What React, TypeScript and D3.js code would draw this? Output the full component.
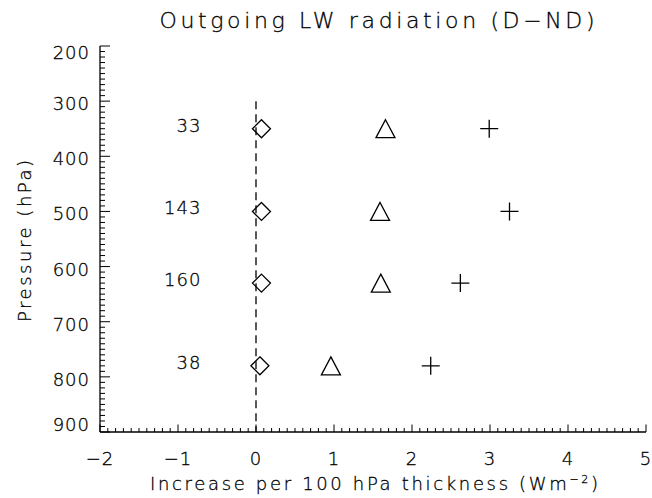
import React from "react";
import * as d3 from "d3";

const pressures = [350, 500, 630, 780];
const counts = ["33", "143", "160", "38"];
const diamondX = [0.07, 0.07, 0.07, 0.05];
const triangleX = [1.66, 1.59, 1.6, 0.96];
const crossX = [2.99, 3.25, 2.62, 2.24];
const xTicks = [-2, -1, 0, 1, 2, 3, 4, 5];
const yTicks = [200, 300, 400, 500, 600, 700, 800, 900];

const W = 652, H = 498;
const L = 100, R = 646, T = 46, B = 432;
const FONT = "'DejaVu Sans', 'Liberation Sans', sans-serif";
const FW = 200;

export default function App() {
  const x = d3.scaleLinear().domain([-2, 5]).range([L, R]);
  const y = d3.scaleLinear().domain([200, 900]).range([T, B]);
  const xMinor = d3.range(-20, 51).map((v) => v / 10);
  const yMinor = d3.range(20, 91).map((v) => v * 10);
  const sw = 1.3;
  const tri = (cx: number, cy: number) =>
    `M${cx},${cy - 9}L${cx + 9.5},${cy + 9}L${cx - 9.5},${cy + 9}Z`;
  const dia = (cx: number, cy: number) =>
    `M${cx},${cy - 9}L${cx + 9},${cy}L${cx},${cy + 9}L${cx - 9},${cy}Z`;
  const crs = (cx: number, cy: number) =>
    `M${cx - 9},${cy}L${cx + 9},${cy}M${cx},${cy - 9}L${cx},${cy + 9}`;
  const ts = { stroke: "#000", strokeWidth: 0.3 };
  return (
    <svg width={W} height={H} style={{ position: "absolute", left: 0, top: 0, background: "#fff" }}
      fontFamily={FONT} fontWeight={FW} fill="#000">
      <rect x={0} y={0} width={W} height={H} fill="#fff" />
      {/* title */}
      <text x={377} y={28} fontSize={22} textAnchor="middle" textLength={435} lengthAdjust="spacing" {...ts}>
        Outgoing LW radiation (D−ND)
      </text>
      {/* axes */}
      <line x1={L} y1={T} x2={L} y2={B} stroke="#000" strokeWidth={sw} />
      <line x1={L} y1={B} x2={R} y2={B} stroke="#000" strokeWidth={sw} />
      {xMinor.map((v, i) => {
        const major = Math.abs(v - Math.round(v)) < 1e-6;
        return (
          <line key={"xm" + i} x1={x(v)} x2={x(v)} y1={B} y2={B - (major ? 7.5 : 4)} stroke="#000" strokeWidth={1} />
        );
      })}
      {yMinor.map((v, i) => {
        const major = v % 100 === 0;
        return (
          <line key={"ym" + i} x1={L} x2={L + (major ? 10 : 5)} y1={y(v)} y2={y(v)} stroke="#000" strokeWidth={1} />
        );
      })}
      {xTicks.map((v) => (
        <text key={"xt" + v} x={x(v)} y={465} fontSize={18} textAnchor="middle" letterSpacing={1} {...ts}>
          {v < 0 ? "−" + Math.abs(v) : String(v)}
        </text>
      ))}
      {yTicks.map((v, i) => {
        const off = i === 0 ? 13 : i === yTicks.length - 1 ? -1 : 9;
        return (
          <text key={"yt" + v} x={90} y={y(v) + off} fontSize={18} textAnchor="end" letterSpacing={1} {...ts}>
            {String(v)}
          </text>
        );
      })}
      {/* axis titles */}
      <text x={374} y={490} fontSize={18} textAnchor="middle" textLength={448} lengthAdjust="spacing" {...ts}>
        Increase per 100 hPa thickness (Wm<tspan dy={-7} fontSize={11}>−2</tspan><tspan dy={7}>)</tspan>
      </text>
      <text transform={`translate(31,241) rotate(-90)`} fontSize={18} textAnchor="middle" textLength={162} lengthAdjust="spacing" {...ts}>
        Pressure (hPa)
      </text>
      {/* dashed zero line */}
      <line x1={x(0)} x2={x(0)} y1={y(300)} y2={y(900)} stroke="#000" strokeWidth={1.3} strokeDasharray="8,5" />
      {/* markers */}
      {pressures.map((p, i) => (
        <g key={"m" + i} fill="none" stroke="#000" strokeWidth={sw}>
          <path d={dia(x(diamondX[i]), y(p))} />
          <path d={tri(x(triangleX[i]), y(p))} />
          <path d={crs(x(crossX[i]), y(p))} />
        </g>
      ))}
      {pressures.map((p, i) => (
        <text key={"c" + i} x={x(-0.7)} y={y(p) + 3} fontSize={18} textAnchor="end" letterSpacing={1} {...ts}>
          {counts[i]}
        </text>
      ))}
    </svg>
  );
}
